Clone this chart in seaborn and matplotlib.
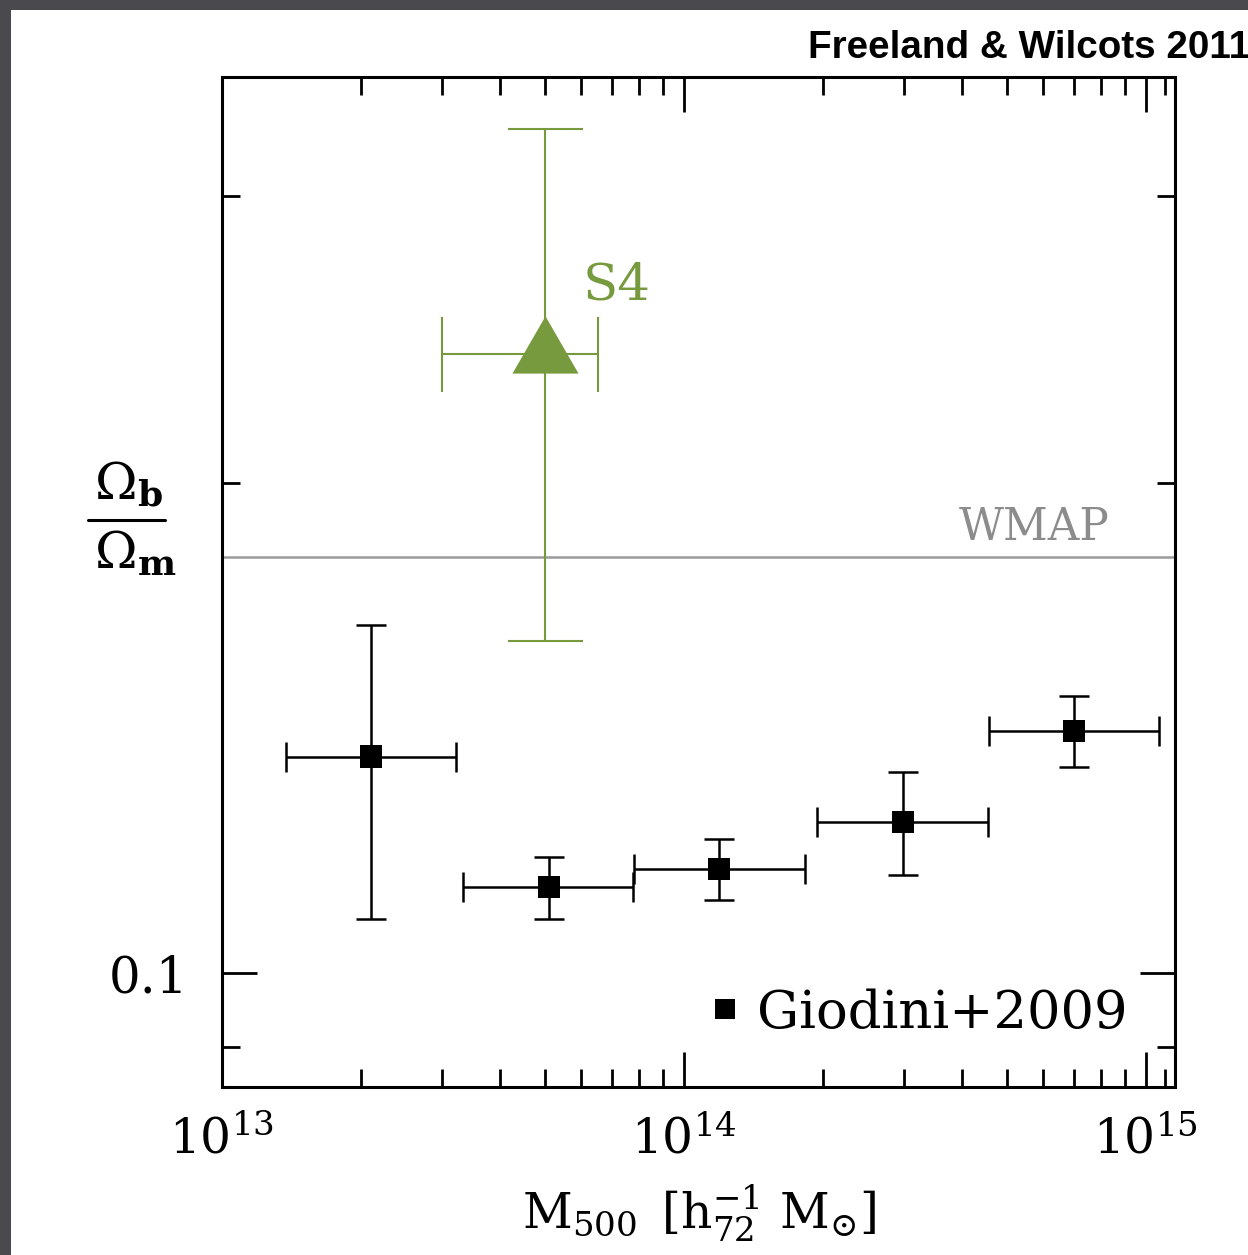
import numpy as np
import pandas as pd
import matplotlib
matplotlib.use("Agg")
import matplotlib.pyplot as plt
import seaborn as sns
from matplotlib.path import Path
from matplotlib.ticker import FixedLocator, NullFormatter, FuncFormatter
from matplotlib.patches import Rectangle
from matplotlib.lines import Line2D

# ---------------- data ----------------
giodini_mass = [2.10e13, 5.10e13, 1.19e14, 2.98e14, 6.98e14]
giodini_mass_lo = [1.375e13, 3.32e13, 7.80e13, 1.94e14, 4.57e14]
giodini_mass_hi = [3.21e13, 7.76e13, 1.83e14, 4.55e14, 1.07e15]
giodini_frac = [0.1358, 0.1129, 0.1158, 0.1238, 0.1408]
giodini_frac_lo = [0.1079, 0.1079, 0.1109, 0.1149, 0.1338]
giodini_frac_hi = [0.1636, 0.1178, 0.1209, 0.1329, 0.1480]

s4_mass = [5.0e13]
s4_mass_lo = [3.0e13]
s4_mass_hi = [6.5e13]
s4_frac = [0.240]
s4_frac_lo = [0.160]
s4_frac_hi = [0.330]

wmap_frac = 0.18

x_major_ticks = [1e13, 1e14, 1e15]
x_minor_ticks = [m * 10.0 ** e for e in (13, 14) for m in range(2, 10)] + [1.1e15]
y_major_ticks = [0.1]
y_minor_ticks = [0.09, 0.2, 0.3]

GREEN = "#789a3f"
GRAY = "#9a9a9a"

gio = pd.DataFrame({"mass": giodini_mass, "frac": giodini_frac,
                    "sample": ["Giodini+2009"] * len(giodini_mass)})
s4 = pd.DataFrame({"mass": s4_mass, "frac": s4_frac})

# ---------------- style ----------------
sns.set_theme(style="ticks")
plt.rcParams["font.family"] = ["DejaVu Serif"]
plt.rcParams["mathtext.fontset"] = "dejavuserif"
for k in ("text.color", "axes.labelcolor", "xtick.color", "ytick.color",
          "xtick.labelcolor", "ytick.labelcolor", "axes.edgecolor"):
    plt.rcParams[k] = "black"

fig = plt.figure(figsize=(12.48, 12.55), dpi=100)
fig.patch.set_facecolor("white")
# dark slide frame at top / left
fig.patches.append(Rectangle((0, 1 - 10 / 1255), 1, 10 / 1255, transform=fig.transFigure,
                             facecolor="#4a4a4e", edgecolor="none", zorder=0))
fig.patches.append(Rectangle((0, 0), 11 / 1248, 1, transform=fig.transFigure,
                             facecolor="#4a4a4e", edgecolor="none", zorder=0))

ax = fig.add_axes([222 / 1248, 1 - 1087 / 1255, (1175 - 222) / 1248, (1087 - 77) / 1255])
ax.set_facecolor("white")
ax.set_xscale("log")
ax.set_yscale("log")
ax.set_xlim(1e13, 1.156e15)
ax.set_ylim(0.0851, 0.355)

# WMAP line
ax.axhline(wmap_frac, color=GRAY, lw=1.8, zorder=1)
ax.text(8.36e14, wmap_frac * 1.012, "WMAP", color="#8c8c8c", fontsize=31.5,
        ha="right", va="bottom")

# Giodini error bars
ax.errorbar(giodini_mass, giodini_frac,
            xerr=[np.array(giodini_mass) - np.array(giodini_mass_lo),
                  np.array(giodini_mass_hi) - np.array(giodini_mass)],
            yerr=[np.array(giodini_frac) - np.array(giodini_frac_lo),
                  np.array(giodini_frac_hi) - np.array(giodini_frac)],
            fmt="none", ecolor="black", elinewidth=1.8, capsize=11, capthick=1.8, zorder=3)
sns.scatterplot(data=gio, x="mass", y="frac", hue="sample", palette=["black"],
                marker="s", s=260, edgecolor="black", linewidth=0, ax=ax, zorder=4)

# S4 error bars
ax.errorbar(s4_mass, s4_frac,
            xerr=[np.array(s4_mass) - np.array(s4_mass_lo), np.array(s4_mass_hi) - np.array(s4_mass)],
            yerr=[np.array(s4_frac) - np.array(s4_frac_lo), np.array(s4_frac_hi) - np.array(s4_frac)],
            fmt="none", ecolor=GREEN, elinewidth=1.5, capsize=27, capthick=1.5, zorder=3)
tri = Path([(0, 2 / 3), (-0.577, -1 / 3), (0.577, -1 / 3), (0, 2 / 3)],
           [Path.MOVETO, Path.LINETO, Path.LINETO, Path.CLOSEPOLY])
sns.scatterplot(data=s4, x="mass", y="frac", marker=tri, s=55 ** 2, color=GREEN,
                linewidth=0, ax=ax, zorder=4, legend=False)
ax.text(6.04e13, 0.259, "S4", color=GREEN, fontsize=37, ha="left", va="baseline")

# ticks
ax.xaxis.set_major_locator(FixedLocator(x_major_ticks))
ax.xaxis.set_minor_locator(FixedLocator(x_minor_ticks))
ax.yaxis.set_major_locator(FixedLocator(y_major_ticks))
ax.yaxis.set_minor_locator(FixedLocator(y_minor_ticks))
ax.xaxis.set_minor_formatter(NullFormatter())
ax.yaxis.set_minor_formatter(NullFormatter())
ax.xaxis.set_major_formatter(FuncFormatter(lambda v, p: r"$10^{%d}$" % round(np.log10(v))))
ax.yaxis.set_major_formatter(FuncFormatter(lambda v, p: "0.1"))
ax.tick_params(which="both", direction="in", top=True, right=True, width=2.0, color="black")
ax.tick_params(which="major", length=25)
ax.tick_params(which="minor", length=13)
ax.tick_params(axis="x", which="major", labelsize=35, pad=21)
ax.tick_params(axis="y", which="major", labelsize=36, pad=24)
for sp in ax.spines.values():
    sp.set_visible(True)
    sp.set_linewidth(2.2)
    sp.set_color("black")

ax.set_xlabel(r"$\mathrm{M}_{500}\ \,[\mathrm{h}_{72}^{-1}\ \mathrm{M}_{\odot}]$", fontsize=35, labelpad=14)
ax.set_ylabel("")

# y label as a stacked fraction
fig.text(94 / 1248, 1 - 500 / 1255, r"$\Omega_{\mathbf{b}}$", fontsize=37, ha="left", va="baseline")
fig.text(94 / 1248, 1 - 568 / 1255, r"$\Omega_{\mathbf{m}}$", fontsize=37, ha="left", va="baseline")
fig.add_artist(Line2D([88 / 1248, 165 / 1248], [1 - 520 / 1255, 1 - 520 / 1255],
                      transform=fig.transFigure, color="black", lw=2.2))

# legend
leg = ax.legend(loc="lower right", bbox_to_anchor=(0.972, 0.027), frameon=False, fontsize=38,
                handletextpad=0.0, handlelength=1.2, markerscale=0.85, borderaxespad=0)

fig.text(808 / 1248, 1 - 58 / 1255, "Freeland & Wilcots 2011", family=["Liberation Sans", "DejaVu Sans"],
         fontweight="bold", fontsize=27.8, ha="left", va="baseline")

fig.savefig("out.png", dpi=100)
